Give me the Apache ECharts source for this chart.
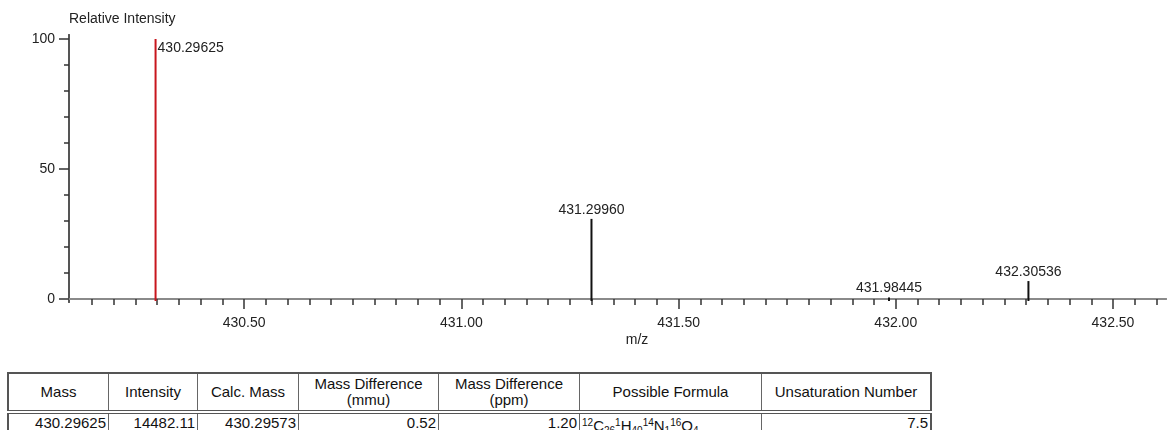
<!DOCTYPE html>
<html>
<head>
<meta charset="utf-8">
<script src="https://cdn.jsdelivr.net/npm/echarts@6/dist/echarts.min.js"></script>
<style>
  html, body { margin: 0; padding: 0; background: #fff; }
  #chart { position: absolute; left: 0; top: 0; width: 1167px; height: 360px; }
  #tbl {
    position: absolute; left: 7px; top: 372px;
    border-collapse: collapse; font-family: "Liberation Sans", Arial, sans-serif;
    font-size: 15px; color: #111; border: 2px solid #555;
  }
  #tbl th { font-weight: normal; height: 36px; border: 1px solid #666; border-bottom: 4px double #555; padding: 0 2px; line-height: 16px; }
  #tbl td { border: 1px solid #666; height: 18px; padding: 1px 2px 0 2px; text-align: right; vertical-align: top; line-height: 16px; }
  #tbl td.f { text-align: left; }
  #tbl sup, #tbl sub { font-size: 10px; }
  #tbl sup { vertical-align: 5px; }
  #tbl sub { vertical-align: -3px; }
</style>
</head>
<body>
<div id="chart"></div>
<table id="tbl"></table>
<script>
// peaks: m/z and relative intensity
const peakMz = [430.29625, 431.29960, 431.98445, 432.30536];
const peakInt = [100, 30.8, 0.6, 6.9];
const peakColor = ['#c8161d', '#111', '#111', '#111'];

// axis tick labels
const xMajor = [430.5, 431.0, 431.5, 432.0, 432.5];
const yMajor = [0, 50, 100];
const yMinor = [10, 20, 30, 40, 60, 70, 80, 90];

// table
const tableHead = ['Mass', 'Intensity', 'Calc. Mass', 'Mass Difference<br>(mmu)', 'Mass Difference<br>(ppm)', 'Possible Formula', 'Unsaturation Number'];
const colWidths = [100, 89, 101, 140, 141, 182, 169];
const tableRow = ['430.29625', '14482.11', '430.29573', '0.52', '1.20',
  '<sup>12</sup>C<sub>26</sub><sup>1</sup>H<sub>40</sub><sup>14</sup>N<sub>1</sub><sup>16</sup>O<sub>4</sub>', '7.5'];

const xMin = 430.097, xMax = 432.622;
const xMinor = [];
for (let v = 430.15; v < xMax; v += 0.05) {
  const r = Math.round(v * 100) / 100;
  if (Math.abs(r * 2 - Math.round(r * 2)) > 1e-6) xMinor.push(r);
}

const font = '"Liberation Sans", Arial, sans-serif';
const fs = 14;
const chart = echarts.init(document.getElementById('chart'));

const xBase = {
  type: 'value', min: xMin, max: xMax, position: 'bottom',
  splitLine: { show: false },
  axisLine: { lineStyle: { color: '#8a8a8a', width: 2 } }
};
const yBase = {
  type: 'value', min: -1.15, max: 101.5, position: 'left',
  splitLine: { show: false },
  axisLine: { lineStyle: { color: '#555', width: 2 } }
};

chart.setOption({
  animation: false,
  grid: { left: 69, right: 1, top: 35, bottom: 58 },
  xAxis: [
    Object.assign({}, xBase, {
      axisTick: { customValues: xMajor, length: 10, lineStyle: { color: '#333', width: 1.5 } },
      axisLabel: {
        customValues: xMajor, margin: 14, color: '#222', fontFamily: font, fontSize: fs,
        formatter: v => v.toFixed(2)
      }
    }),
    Object.assign({}, xBase, {
      axisTick: { customValues: xMinor, length: 6, lineStyle: { color: '#333', width: 1.5 } },
      axisLabel: { show: false }
    })
  ],
  yAxis: [
    Object.assign({}, yBase, {
      axisTick: { customValues: yMajor, length: 10, lineStyle: { color: '#333', width: 1.5 } },
      axisLabel: { customValues: yMajor, margin: 14, color: '#222', fontFamily: font, fontSize: fs }
    }),
    Object.assign({}, yBase, {
      axisTick: { customValues: yMinor, length: 5, lineStyle: { color: '#333', width: 1.5 } },
      axisLabel: { show: false }
    })
  ],
  graphic: [
    { type: 'text', left: 69, top: 12, style: { text: 'Relative Intensity', font: fs + 'px ' + font, fill: '#222' } },
    { type: 'text', x: 637, y: 340, style: { text: 'm/z', font: fs + 'px ' + font, fill: '#222', align: 'center', verticalAlign: 'middle' } }
  ],
  series: [{
    type: 'custom',
    xAxisIndex: 0, yAxisIndex: 0,
    data: peakMz.map((m, i) => [m, peakInt[i], i]),
    renderItem: (params, api) => {
      const i = api.value(2);
      const base = api.coord([api.value(0), 0]);
      const top = api.coord([api.value(0), api.value(1)]);
      const first = i === 0;
      return {
        type: 'group',
        children: [
          { type: 'line', shape: { x1: base[0], y1: base[1] + 2, x2: top[0], y2: top[1] },
            style: { stroke: peakColor[i], lineWidth: 2 } },
          { type: 'text', x: first ? top[0] + 2 : top[0], y: first ? top[1] + 2 : top[1] - 2,
            style: { text: peakMz[i].toFixed(5), font: fs + 'px ' + font, fill: '#222',
              align: first ? 'left' : 'center', verticalAlign: first ? 'top' : 'bottom' } }
        ]
      };
    }
  }]
});

const tbl = document.getElementById('tbl');
let html = '<tr>' + tableHead.map((h, i) => '<th style="width:' + (colWidths[i] - 5) + 'px">' + h + '</th>').join('') + '</tr>';
html += '<tr>' + tableRow.map((c, i) => '<td' + (i === 5 ? ' class="f"' : '') + '>' + c + '</td>').join('') + '</tr>';
tbl.innerHTML = html;
</script>
</body>
</html>
